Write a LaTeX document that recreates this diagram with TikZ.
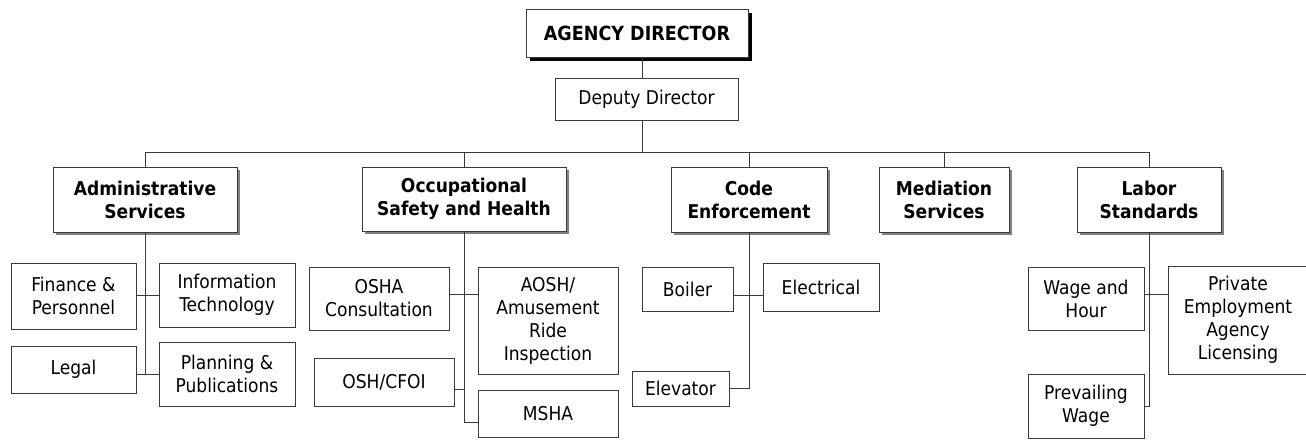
\documentclass[tikz,border=0pt]{standalone}
\usepackage{fontspec}
\setmainfont{DejaVu Sans Condensed}
\usepackage{tikz}
\usetikzlibrary{shadows}
\definecolor{linegray}{HTML}{3A3A3A}

\begin{document}
\begin{tikzpicture}[x=1pt, y=-1pt,
  line width=1pt, draw=linegray,
  box/.style={draw=linegray, fill=white, rectangle, inner sep=0pt, align=center,
    font=\fontsize{19}{23}\selectfont},
  divbox/.style={box, font=\fontsize{19}{23}\selectfont\bfseries,
    drop shadow={shadow xshift=3pt, shadow yshift=-3pt, fill=gray, opacity=1}},
  topbox/.style={box, font=\fontsize{19.5}{24}\selectfont\bfseries,
    drop shadow={shadow xshift=4pt, shadow yshift=-4pt, fill=black, opacity=1}}]
  \useasboundingbox (0,0) rectangle (1306,439);

  \node[topbox, minimum width=222, minimum height=48] (dir) at (637,33) {AGENCY DIRECTOR};
  \node[box, minimum width=183, minimum height=42] (dep) at (646.5,99) {Deputy Director};

  \node[divbox, minimum width=184, minimum height=65] (adm) at (145,199.5) {Administrative\\Services};
  \node[divbox, minimum width=204, minimum height=64] (osh) at (464,199) {Occupational\\Safety and Health};
  \node[divbox, minimum width=156, minimum height=65] (cod) at (749,199.5) {Code\\Enforcement};
  \node[divbox, minimum width=130, minimum height=65] (med) at (944,199.5) {Mediation\\Services};
  \node[divbox, minimum width=144, minimum height=65] (lab) at (1149,199.5) {Labor\\Standards};

  \node[box, minimum width=125, minimum height=66] (fin) at (73.5,296) {Finance \&\\Personnel};
  \node[box, minimum width=136, minimum height=64] (inf) at (227,295) {Information\\Technology};
  \node[box, minimum width=125, minimum height=47] (leg) at (73.5,369.5) {Legal};
  \node[box, minimum width=136, minimum height=64] (pla) at (227,374) {Planning \&\\Publications};

  \node[box, minimum width=140, minimum height=63] (osc) at (379,298.5) {OSHA\\Consultation};
  \node[box, minimum width=140, minimum height=107] (aos) at (548,320.5) {AOSH/\\Amusement\\Ride\\Inspection};
  \node[box, minimum width=140, minimum height=48] (cfo) at (384,382) {OSH/CFOI};
  \node[box, minimum width=140, minimum height=47] (msh) at (548,413.5) {MSHA};

  \node[box, minimum width=91, minimum height=44] (boi) at (687.5,289) {Boiler};
  \node[box, minimum width=116, minimum height=48] (ele) at (821,287) {Electrical};
  \node[box, minimum width=97, minimum height=35] (elv) at (680.5,388.5) {Elevator};

  \node[box, minimum width=116, minimum height=63] (wag) at (1086,298.5) {Wage and\\Hour};
  \node[box, minimum width=140, minimum height=108] (pri) at (1238,320) {Private\\Employment\\Agency\\Licensing};
  \node[box, minimum width=116, minimum height=64] (pre) at (1086,406) {Prevailing\\Wage};

  % top of the chart
  \coordinate (bus) at (642,152);
  \draw (dir.south -| bus) -- (dep.north -| bus);
  \draw (dep.south -| bus) -- (bus);
  \draw (adm.north) -- (adm.north |- bus) -- (lab.north |- bus) -- (lab.north);
  \draw (osh.north) -- (osh.north |- bus);
  \draw (cod.north) -- (cod.north |- bus);
  \draw (med.north) -- (med.north |- bus);

  % administrative services
  \draw (adm.south) -- (adm.south |- pla.west);
  \draw (fin.east |- inf.west) -- (inf.west);
  \draw (leg.east |- pla.west) -- (pla.west);

  % occupational safety and health
  \coordinate (oj1) at (464,294);
  \coordinate (oj2) at (464,389);
  \coordinate (oj3) at (464,422);
  \draw (osh.south) -- (oj3) -- (msh.west |- oj3);
  \draw (osc.east |- oj1) -- (aos.west |- oj1);
  \draw (cfo.east |- oj2) -- (oj2);

  % code enforcement
  \coordinate (cj1) at (748,295);
  \draw (cod.south) -- (cod.south |- elv.east) -- (elv.east);
  \draw (boi.east |- cj1) -- (ele.west |- cj1);

  % labor standards
  \coordinate (lj1) at (1149,294);
  \draw (lab.south) -- (lab.south |- pre.east) -- (pre.east);
  \draw (wag.east |- lj1) -- (pri.west |- lj1);
\end{tikzpicture}
\end{document}
